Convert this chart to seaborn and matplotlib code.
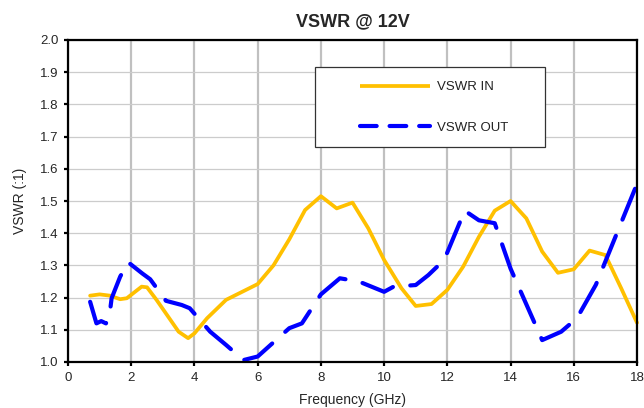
import matplotlib
matplotlib.use("Agg")
import matplotlib.pyplot as plt
from matplotlib.lines import Line2D
from matplotlib.patches import Rectangle
import seaborn as sns
import pandas as pd

# VSWR IN (solid, amber)
freq_in = [0.7, 1.0, 1.33, 1.65, 1.86, 2.33, 2.5, 2.8, 3.5, 3.8, 4.0, 4.4, 5.0,
           6.0, 6.5, 7.0, 7.5, 8.0, 8.5, 9.0, 9.5, 10.0, 10.55, 11.0, 11.5, 12.0,
           12.5, 13.0, 13.5, 14.0, 14.5, 15.0, 15.5, 16.0, 16.5, 17.0, 17.5, 18.0]
vswr_in = [1.206, 1.21, 1.206, 1.195, 1.198, 1.234, 1.232, 1.193, 1.094, 1.074,
           1.089, 1.136, 1.193, 1.242, 1.30, 1.381, 1.472, 1.515, 1.477, 1.495,
           1.415, 1.317, 1.229, 1.174, 1.18, 1.224, 1.296, 1.389, 1.47, 1.50,
           1.446, 1.343, 1.277, 1.288, 1.346, 1.332, 1.229, 1.122]

# VSWR OUT (dashed, blue)
freq_out = [0.7, 0.9, 1.05, 1.2, 1.3, 1.38, 1.65, 1.9, 2.35, 2.6, 3.1, 3.6, 3.85,
            4.5, 5.0, 5.55, 6.0, 7.0, 7.4, 8.0, 8.6, 9.2, 10.0, 10.3, 11.0, 11.4,
            11.9, 12.55, 13.0, 13.5, 14.0, 15.0, 15.6, 16.1, 16.7, 18.05]
vswr_out = [1.187, 1.12, 1.127, 1.12, 1.136, 1.198, 1.265, 1.31, 1.275, 1.257,
            1.19, 1.177, 1.167, 1.094, 1.053, 1.006, 1.017, 1.105, 1.12, 1.21,
            1.26, 1.25, 1.218, 1.234, 1.239, 1.27, 1.317, 1.47, 1.44, 1.431,
            1.29, 1.068, 1.094, 1.136, 1.24, 1.565]

YELLOW = "#FFC000"
BLUE = "#0000FF"

df_in = pd.DataFrame({"freq": freq_in, "vswr": vswr_in})
df_out = pd.DataFrame({"freq": freq_out, "vswr": vswr_out})

sns.set_style("white")
plt.rcParams["font.family"] = ["Liberation Sans", "DejaVu Sans"]

W, H = 644, 408
L, R, T, B = 68, 637, 40, 362
fig = plt.figure(figsize=(W / 100, H / 100), dpi=100)
ax = fig.add_axes([L / W, 1 - B / H, (R - L) / W, (B - T) / H])

sns.lineplot(data=df_in, x="freq", y="vswr", ax=ax, color=YELLOW,
             linewidth=2.7, sort=False, legend=False,
             solid_capstyle="round", solid_joinstyle="round", clip_on=False)
sns.lineplot(data=df_out, x="freq", y="vswr", ax=ax, color=BLUE,
             linewidth=3.0, sort=False, legend=False, clip_on=False)
ax.lines[1].set_dashes((8, 4.2))
ax.lines[1].set_dash_capstyle("round")
ax.lines[1].set_dash_joinstyle("round")

ax.set_xlim(0, 18)
ax.set_ylim(1.0, 2.0)
ax.set_xticks(range(0, 19, 2))
ax.set_yticks([1.0 + 0.1 * i for i in range(11)])
ax.set_yticklabels([f"{1.0 + 0.1 * i:.1f}" for i in range(11)])

ax.grid(axis="x", color="#c0c0c0", linewidth=1.6)
ax.grid(axis="y", color="#cccccc", linewidth=0.9)
ax.set_axisbelow(True)

for s in ax.spines.values():
    s.set_color("black")
    s.set_linewidth(1.6)
ax.tick_params(direction="out", length=3, width=1.6, color="black",
               labelsize=9.5, pad=4, bottom=True, left=True)

ax.set_title("VSWR @ 12V", fontsize=13, fontweight="bold", pad=10)
ax.set_xlabel("Frequency (GHz)", fontsize=10, labelpad=7)
ax.set_ylabel("VSWR (:1)", fontsize=10, labelpad=9)


def ax_x(px):
    return (px - L) / (R - L)


def ax_y(py):
    return (B - py) / (B - T)


# legend box, Excel style
box = Rectangle((ax_x(315), ax_y(147)), ax_x(545) - ax_x(315), ax_y(67) - ax_y(147),
                transform=ax.transAxes, facecolor="white", edgecolor="#333333",
                linewidth=0.9, zorder=5, clip_on=False)
ax.add_patch(box)

handles = [
    Line2D([], [], color=YELLOW, linewidth=2.7, solid_capstyle="butt"),
    Line2D([], [], color=BLUE, linewidth=3.0, dashes=(4, 3.1), dash_capstyle="round"),
]
leg = ax.legend(handles, ["VSWR IN", "VSWR OUT"], loc="upper left",
                bbox_to_anchor=(ax_x(360), ax_y(81)), frameon=False,
                fontsize=9.5, handlelength=5.3, labelspacing=2.15,
                borderpad=0, handletextpad=0.55, borderaxespad=0)
leg.set_zorder(6)
for t in leg.get_texts():
    t.set_color("#222222")

fig.savefig("out.png", dpi=100)
